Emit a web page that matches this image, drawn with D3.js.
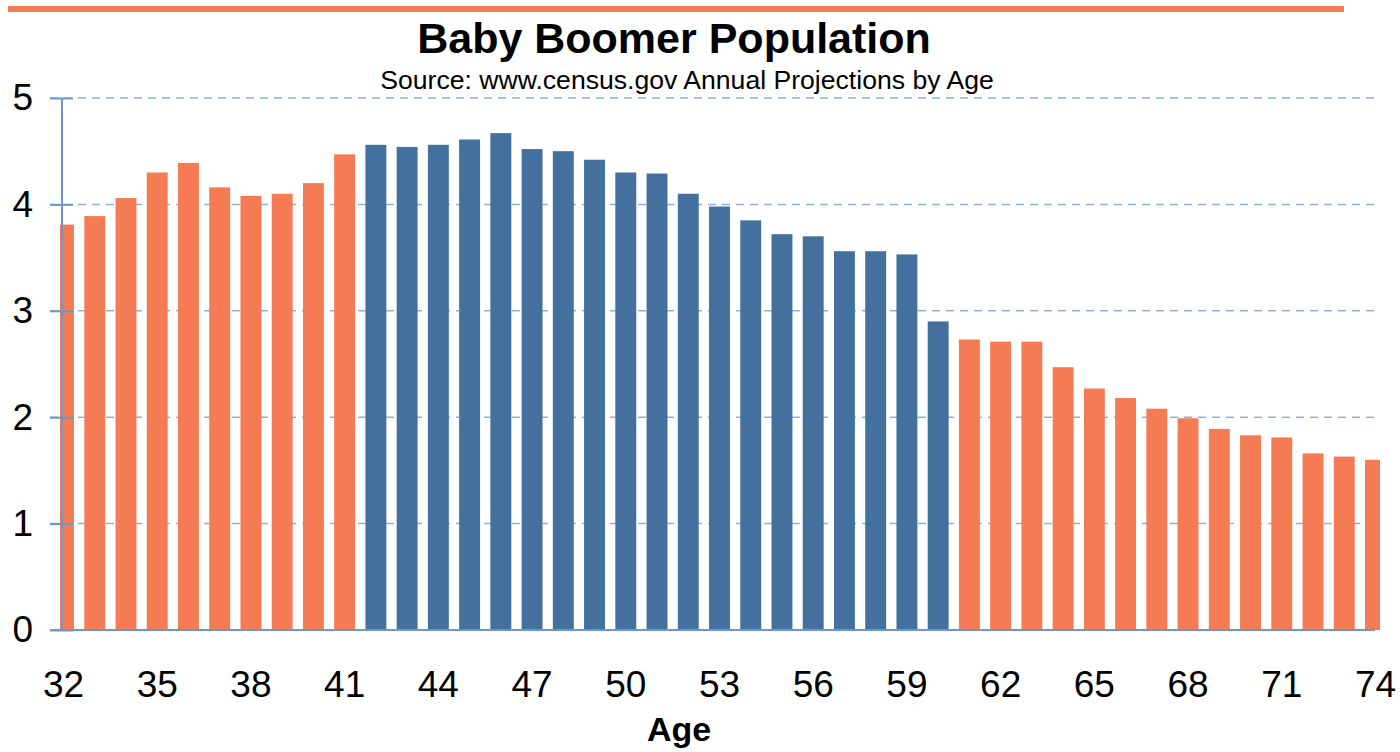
<!DOCTYPE html>
<html>
<head>
<meta charset="utf-8">
<script src="https://cdn.jsdelivr.net/npm/d3@7"></script>
<style>
  body { margin: 0; background: #fff; }
  svg { display: block; font-family: "Liberation Sans", Arial, sans-serif; }
</style>
</head>
<body>
<div id="chart"></div>
<script>
// Baby boomer population by age (millions)
const AGES = d3.range(32, 75);
const POPULATION = [
  3.81, 3.89, 4.06, 4.30, 4.39, 4.16, 4.08, 4.10, 4.20, 4.47,
  4.56, 4.54, 4.56, 4.61, 4.67, 4.52, 4.50, 4.42, 4.30, 4.29,
  4.10, 3.98, 3.85, 3.72, 3.70, 3.56, 3.56, 3.53, 2.90,
  2.73, 2.71, 2.71, 2.47, 2.27, 2.18, 2.08, 1.99, 1.89, 1.83,
  1.81, 1.66, 1.63, 1.60
];
const BOOMER_AGES = [42, 60]; // first and last boomer age (blue bars)
const Y_TICKS = [0, 1, 2, 3, 4, 5];
const X_TICKS = d3.range(32, 75, 3);

const W = 1400, H = 752;
const orange = "#f47b54", blue = "#44709d";
const gridColor = "#8fb1d9", axisColor = "#6b97c9";

const svg = d3.select("#chart").append("svg")
  .attr("width", W).attr("height", H);

// top accent rule
svg.append("rect")
  .attr("x", 8).attr("y", 6).attr("width", 1336).attr("height", 6)
  .attr("fill", orange);

svg.append("text")
  .attr("x", 674).attr("y", 53)
  .attr("text-anchor", "middle")
  .style("font-size", "43px").style("font-weight", "bold")
  .text("Baby Boomer Population");

svg.append("text")
  .attr("x", 687).attr("y", 89)
  .attr("text-anchor", "middle")
  .style("font-size", "26.6px")
  .text("Source: www.census.gov Annual Projections by Age");

const x = d3.scaleBand()
  .domain(AGES)
  .range([47.9, 1391.1])
  .paddingInner(0.33)
  .paddingOuter(0.165);

const y = d3.scaleLinear()
  .domain([0, 5])
  .range([630, 98]);

// gridlines
svg.append("g")
  .selectAll("line")
  .data(Y_TICKS.filter(d => d > 0))
  .enter().append("line")
  .attr("x1", 50).attr("x2", 1375)
  .attr("y1", d => y(d)).attr("y2", d => y(d))
  .attr("stroke", gridColor)
  .attr("stroke-width", 1.5)
  .attr("stroke-dasharray", "8,6");

svg.append("clipPath").attr("id", "plot")
  .append("rect").attr("x", 60).attr("y", 0).attr("width", 1320).attr("height", 640);

svg.append("g")
  .attr("clip-path", "url(#plot)")
  .selectAll("rect")
  .data(AGES.map((a, i) => ({ age: a, val: POPULATION[i] })))
  .enter().append("rect")
  .attr("x", d => x(d.age))
  .attr("y", d => y(d.val))
  .attr("width", x.bandwidth())
  .attr("height", d => y(0) - y(d.val))
  .attr("fill", d => (d.age >= BOOMER_AGES[0] && d.age <= BOOMER_AGES[1]) ? blue : orange);

// y axis
const yAxis = svg.append("g")
  .attr("transform", "translate(62,0)")
  .call(d3.axisLeft(y).tickValues(Y_TICKS).tickFormat(d3.format("d")).tickSize(12));
yAxis.select(".domain").remove();
yAxis.selectAll(".tick line")
  .attr("x1", -12).attr("x2", 11)
  .attr("stroke", axisColor).attr("stroke-width", 2);
yAxis.selectAll("text")
  .attr("x", -29)
  .style("font-size", "37px")
  .style("font-family", "'Liberation Sans', Arial, sans-serif")
  .attr("fill", "#000");

svg.append("line")
  .attr("x1", 62).attr("x2", 62)
  .attr("y1", y(5)).attr("y2", y(0))
  .attr("stroke", axisColor).attr("stroke-width", 2);

// x axis
svg.append("line")
  .attr("x1", 50).attr("x2", 1375)
  .attr("y1", y(0)).attr("y2", y(0))
  .attr("stroke", axisColor).attr("stroke-width", 2);

const xAxis = svg.append("g")
  .attr("transform", `translate(0,${y(0)})`)
  .call(d3.axisBottom(x).tickValues(X_TICKS).tickSize(0).tickPadding(0));
xAxis.select(".domain").remove();
xAxis.selectAll("text")
  .attr("y", 67).attr("dy", null)
  .style("font-size", "37px")
  .style("font-family", "'Liberation Sans', Arial, sans-serif")
  .attr("fill", "#000");

svg.append("text")
  .attr("x", 679).attr("y", 741)
  .attr("text-anchor", "middle")
  .style("font-size", "34px").style("font-weight", "bold")
  .text("Age");
</script>
</body>
</html>
